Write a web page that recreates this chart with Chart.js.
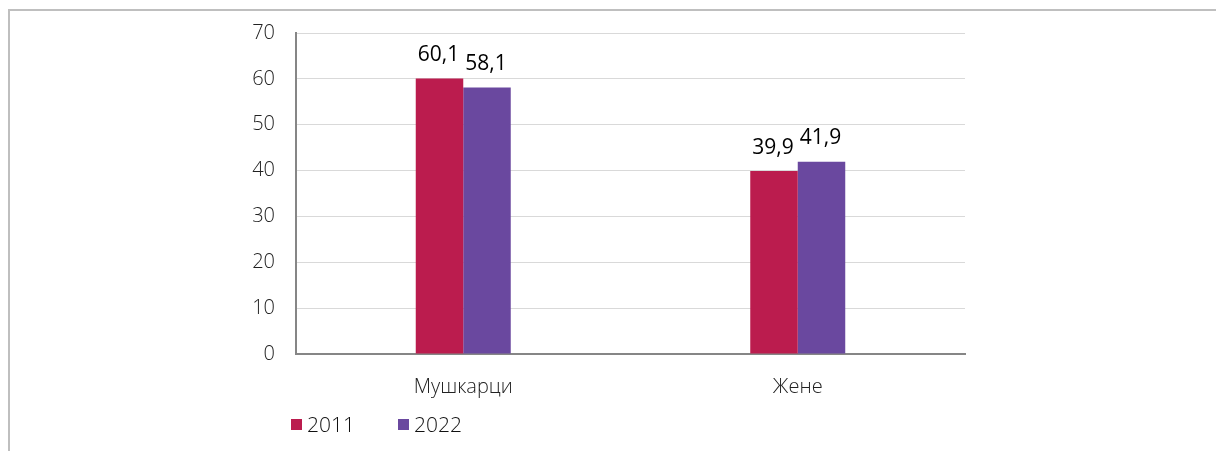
<!DOCTYPE html>
<html>
<head>
<meta charset="utf-8">
<script src="https://cdn.jsdelivr.net/npm/chart.js@4"></script>
<style>
  html, body { margin:0; padding:0; background:#fff; }
  body { width:1216px; height:451px; position:relative; overflow:hidden; font-family:"Open Sans", sans-serif; }
  #frame { position:absolute; left:8px; top:9px; width:1220px; height:460px; border-top:2px solid #bfbfbf; border-left:2px solid #bfbfbf; box-sizing:border-box; }
  #wrap { position:absolute; left:0; top:0; width:1216px; height:451px; }
  #legend { position:absolute; left:291px; top:410px; font-size:21px; font-weight:300; color:#111; display:flex; }
  .item { display:flex; align-items:center; margin-right:43px; }
  .sw { width:11px; height:11px; margin-right:5px; }
</style>
</head>
<body>
<div id="frame"></div>
<div id="wrap"><canvas id="c" width="1216" height="451"></canvas></div>
<div id="legend"></div>
<script>
const categories = ["Мушкарци", "Жене"];
const seriesNames = ["2011", "2022"];
const values2011 = [60.1, 39.9];
const values2022 = [58.1, 41.9];
const yTicks = [0, 10, 20, 30, 40, 50, 60, 70];
const colors = ["#bb1c4e", "#6a489f"];

function fmt(v){ return v.toFixed(1).replace(".", ","); }

// legend drawn as html, left-aligned like the original
const lg = document.getElementById("legend");
seriesNames.forEach((n, i) => {
  const it = document.createElement("div"); it.className = "item";
  it.innerHTML = `<span class="sw" style="background:${colors[i]}"></span><span>${n}</span>`;
  lg.appendChild(it);
});

const valueLabels = {
  id: "valueLabels",
  afterDatasetsDraw(chart){
    const ctx = chart.ctx;
    ctx.save();
    ctx.font = '21px "Open Sans"';
    ctx.fillStyle = "#000";
    ctx.textAlign = "center";
    ctx.textBaseline = "bottom";
    chart.data.datasets.forEach((ds, di) => {
      chart.getDatasetMeta(di).data.forEach((bar, i) => {
        ctx.fillText(fmt(ds.data[i]), bar.x - 1, bar.y - 13);
      });
    });
    ctx.restore();
  }
};

const tickFont = { family: "Open Sans", size: 20, weight: 300 };

new Chart(document.getElementById("c"), {
  type: "bar",
  data: {
    labels: categories,
    datasets: [
      { label: seriesNames[0], data: values2011, backgroundColor: colors[0] },
      { label: seriesNames[1], data: values2022, backgroundColor: colors[1] }
    ]
  },
  options: {
    responsive: false,
    animation: false,
    devicePixelRatio: 1,
    layout: { padding: { top: 32, right: 251, left: 0, bottom: 0 } },
    datasets: { bar: { barPercentage: 1, categoryPercentage: 0.284 } },
    plugins: { legend: { display: false }, tooltip: { enabled: false } },
    scales: {
      x: {
        grid: { display: false, drawTicks: false },
        border: { color: "#868686", width: 2 },
        ticks: { color: "#222", font: tickFont, padding: 21, maxRotation: 0 },
        afterFit: s => { s.height = 97; }
      },
      y: {
        min: 0, max: 70,
        afterBuildTicks: s => { s.ticks = yTicks.map(v => ({ value: v })); },
        grid: { color: "#d9d9d9", drawTicks: false },
        border: { color: "#868686", width: 2 },
        ticks: { color: "#222", font: tickFont, padding: 21 },
        afterFit: s => { s.width = 296; }
      }
    }
  },
  plugins: [valueLabels]
});
</script>
</body>
</html>
